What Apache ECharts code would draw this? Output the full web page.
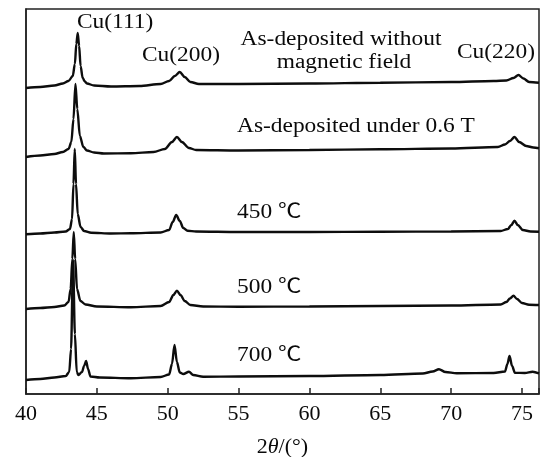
<!DOCTYPE html>
<html>
<head>
<meta charset="UTF-8">
<script src="https://cdn.jsdelivr.net/npm/echarts@6/dist/echarts.min.js"></script>
<style>
  html, body { margin: 0; background: #ffffff; }
  #paint { width: 542px; height: 457px; }
</style>
</head>
<body>
<div id="paint"></div>
<script>
// 2theta (deg) vs intensity (arb., curves already offset as in the figure)
var noField = [
  [40.0, 306], [41.0, 307], [42.0, 308.5], [42.6, 310.5], [43.0, 313], [43.3, 318],
  [43.45, 330], [43.55, 350], [43.65, 361], [43.75, 348], [43.85, 328], [44.0, 316],
  [44.15, 312.5], [44.3, 310.5], [44.8, 308.5], [46.0, 307.5], [48.0, 308], [49.5, 310],
  [50.1, 313], [50.5, 318], [50.85, 322], [51.2, 317], [51.6, 312], [52.2, 310],
  [55.0, 310], [60.0, 310.5], [65.0, 311.3], [70.0, 312], [73.0, 313], [73.9, 313.5],
  [74.4, 316], [74.75, 319], [75.1, 315.5], [75.5, 312], [76.2, 311.3]
];
var field06 = [
  [40.0, 237], [41.0, 238.5], [42.0, 240], [42.6, 242], [43.0, 245], [43.2, 252],
  [43.35, 275], [43.49, 310], [43.62, 285], [43.8, 258], [44.05, 247], [44.3, 243.5],
  [44.8, 241.5], [45.5, 240.5], [47.4, 240.7], [49.0, 242], [49.8, 245], [50.3, 252],
  [50.65, 257], [51.0, 252], [51.5, 246], [52.0, 244], [55.0, 243.5], [60.0, 244],
  [65.0, 244.7], [70.0, 245.5], [73.3, 247], [73.8, 249.5], [74.15, 253], [74.47, 257],
  [74.8, 252], [75.3, 248], [75.8, 246.5], [76.2, 245.7]
];
var t450 = [
  [40.0, 159.7], [41.0, 160.5], [42.0, 161.5], [42.8, 162.5], [43.1, 165], [43.25, 175],
  [43.35, 210], [43.44, 245], [43.53, 210], [43.65, 180], [43.85, 167], [44.1, 163],
  [44.6, 161.3], [46.0, 160.5], [47.4, 160.7], [49.5, 161.5], [50.1, 164], [50.35, 172],
  [50.6, 179], [50.85, 173], [51.1, 166], [51.4, 163.3], [52.0, 162.5], [55.0, 162],
  [60.0, 162], [65.0, 162.3], [70.0, 162.5], [73.5, 163], [74.0, 165], [74.25, 169],
  [74.47, 173.3], [74.7, 169], [75.06, 164], [75.6, 162.5], [76.2, 162.3]
];
var t500 = [
  [40.0, 85], [41.0, 86], [42.0, 87], [42.7, 88.5], [43.0, 92], [43.15, 105],
  [43.27, 135], [43.37, 162], [43.47, 135], [43.6, 105], [43.84, 93], [44.2, 89.5],
  [45.0, 87.5], [47.4, 86.7], [49.5, 88], [50.1, 92], [50.4, 99], [50.65, 103.3],
  [50.9, 99], [51.2, 93], [51.6, 89], [52.5, 87.5], [55.0, 87.3], [60.0, 87.5],
  [65.0, 88], [70.0, 88.5], [73.5, 89.5], [73.9, 92], [74.15, 95.5], [74.4, 98.3],
  [74.65, 95], [75.0, 91], [75.5, 89.3], [76.2, 89]
];
var t700 = [
  [40.0, 14], [41.0, 15], [42.0, 16.5], [42.8, 18], [43.05, 22], [43.18, 45],
  [43.32, 134], [43.45, 60], [43.58, 22], [43.7, 19], [43.95, 22], [44.1, 28],
  [44.24, 33], [44.38, 25], [44.55, 17.5], [45.2, 16.5], [47.4, 15.7], [49.5, 17],
  [50.1, 19.5], [50.3, 30], [50.48, 49], [50.65, 32], [50.85, 21.5], [51.1, 20],
  [51.5, 22.3], [51.8, 19], [52.5, 17.3], [55.0, 17.5], [60.0, 18], [65.0, 19],
  [68.0, 20.5], [68.7, 22.5], [69.14, 24.7], [69.6, 22], [70.4, 20.7], [73.0, 21],
  [73.8, 22.5], [73.97, 30], [74.12, 38], [74.3, 28], [74.5, 21.3], [75.2, 21],
  [75.75, 22.3], [76.2, 20.7]
];
var curves = [noField, field06, t450, t500, t700];
var peakNames = ['Cu(111)', 'Cu(200)', 'Cu(220)'];
var sampleNames = ['As-deposited without', 'magnetic field', 'As-deposited under 0.6 T', '450 ℃', '500 ℃', '700 ℃'];

var FONT = '"Liberation Serif", "Times New Roman", "Noto Sans CJK SC", serif';

// figure text is a horizontally stretched Times face
function txt(s, x, y, align) {
    return {
        type: 'text', x: x, y: y, scaleX: 1.17, silent: true,
        style: {
            text: s, fontFamily: FONT, fontSize: 20, fill: '#0a0a0a',
            textAlign: align || 'left', textVerticalAlign: 'middle'
        }
    };
}

var chart = echarts.init(document.getElementById('paint'));
chart.setOption({
    backgroundColor: '#ffffff',
    animation: false,
    grid: {
        left: 26, right: 3, top: 9, bottom: 63,
        outerBoundsMode: 'none',
        show: true, borderColor: '#222', borderWidth: 1.5
    },
    xAxis: {
        type: 'value',
        min: 40, max: 76.2, interval: 5,
        axisLine: { show: true, lineStyle: { color: '#222', width: 1.5 } },
        axisTick: { show: true, inside: true, length: 6, lineStyle: { color: '#222', width: 1.5 } },
        axisLabel: {
            margin: 9, fontFamily: FONT, fontSize: 22, color: '#0a0a0a',
            formatter: function (v) { return v % 5 === 0 ? v : ''; }
        },
        splitLine: { show: false },
        name: '{a|2}{b|θ}{a|/(°)}',
        nameLocation: 'middle',
        nameGap: 42,
        nameTextStyle: {
            rich: {
                a: { fontFamily: FONT, fontSize: 22, color: '#0a0a0a' },
                b: { fontFamily: FONT, fontSize: 22, color: '#0a0a0a', fontStyle: 'italic' }
            }
        }
    },
    yAxis: {
        type: 'value', min: 0, max: 385,
        axisLine: { show: true, lineStyle: { color: '#222', width: 1.5 } },
        axisTick: { show: false },
        axisLabel: { show: false },
        splitLine: { show: false }
    },
    series: curves.map(function (d) {
        return {
            type: 'line', data: d, showSymbol: false,
            smooth: 0.3, smoothMonotone: 'x',
            lineStyle: { color: '#0d0d0d', width: 2.4 }
        };
    }),
    graphic: [
        txt(peakNames[0], 77, 23),
        txt(peakNames[1], 142, 56),
        txt(peakNames[2], 457, 53),
        txt(sampleNames[0], 341, 40, 'center'),
        txt(sampleNames[1], 344, 63, 'center'),
        txt(sampleNames[2], 237, 127),
        txt(sampleNames[3], 237, 213),
        txt(sampleNames[4], 237, 288),
        txt(sampleNames[5], 237, 356)
    ]
});
</script>
</body>
</html>
